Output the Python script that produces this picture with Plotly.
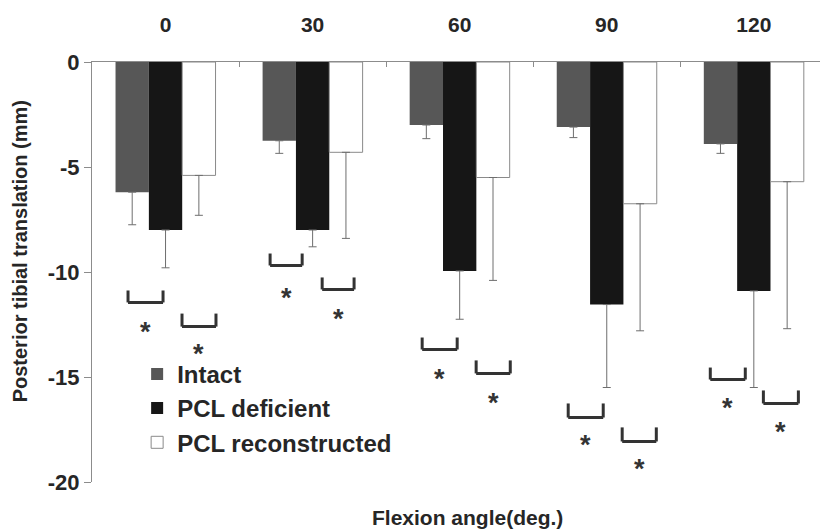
import plotly.graph_objects as go

# ---------------- data ----------------
angles = ["0", "30", "60", "90", "120"]
intact = [-6.2, -3.75, -3.0, -3.1, -3.9]
intact_sd = [1.55, 0.6, 0.65, 0.5, 0.45]
deficient = [-8.0, -8.0, -9.95, -11.55, -10.9]
deficient_sd = [1.8, 0.8, 2.3, 3.95, 4.6]
reconstructed = [-5.4, -4.3, -5.5, -6.75, -5.7]
reconstructed_sd = [1.9, 4.1, 4.9, 6.05, 7.0]

y_tick_vals = [0, -5, -10, -15, -20]
y_tick_text = ["0", "-5", "-10", "-15", "-20"]

# significance brackets (category index + offset, y in mm)
bracket_cat = [0, 0, 1, 1, 2, 2, 3, 3, 4, 4]
bracket_x0 = [-0.255, 0.112, -0.289, 0.065, -0.255, 0.112, -0.262, 0.105, -0.296, 0.065]
bracket_x1 = [-0.017, 0.343, -0.071, 0.282, -0.017, 0.344, -0.024, 0.337, -0.058, 0.303]
bracket_top = [-10.88, -11.98, -9.12, -10.26, -13.12, -14.21, -16.26, -17.4, -14.55, -15.64]
bracket_bottom = [-11.45, -12.6, -9.69, -10.83, -13.69, -14.83, -16.93, -18.07, -15.12, -16.26]
star_y = [-12.64, -13.69, -10.98, -12.02, -14.88, -16.02, -18.02, -19.12, -16.26, -17.36]

FONT = "Liberation Sans, Arial, sans-serif"
TXT = "#262626"

fig = go.Figure()

def add_bar(name, vals, sd, color, line_color, line_w, group):
    fig.add_trace(go.Bar(
        name=name, x=angles, y=vals, legendgroup=group,
        marker=dict(color=color, line=dict(color=line_color, width=line_w)),
        error_y=dict(type="data", symmetric=False, array=[0] * len(sd), arrayminus=sd,
                     color="#6e6e6e", thickness=1, width=4),
    ))

add_bar("Intact", intact, intact_sd, "#575757", "#575757", 0, "a")
add_bar("PCL deficient", deficient, deficient_sd, "#161616", "#161616", 0, "b")
add_bar("PCL reconstructed", reconstructed, reconstructed_sd, "#ffffff", "#8a8a8a", 1, "c")

shapes = []
annotations = []
for c, x0, x1, yt, yb, sy in zip(bracket_cat, bracket_x0, bracket_x1, bracket_top, bracket_bottom, star_y):
    lw = dict(color="#333333", width=3)
    shapes.append(dict(type="line", xref="x", yref="y", x0=c + x0, x1=c + x0, y0=yt, y1=yb, line=lw))
    shapes.append(dict(type="line", xref="x", yref="y", x0=c + x0, x1=c + x1, y0=yb, y1=yb, line=lw))
    shapes.append(dict(type="line", xref="x", yref="y", x0=c + x1, x1=c + x1, y0=yt, y1=yb, line=lw))
    annotations.append(dict(x=c + (x0 + x1) / 2, y=sy, xref="x", yref="y", text="*", showarrow=False,
                            yshift=-5, font=dict(family=FONT, size=27, color="#333333", weight="bold")))

annotations.append(dict(x=0.516, y=-0.085, xref="paper", yref="paper", text="Flexion angle(deg.)",
                        showarrow=False, xanchor="center", yanchor="middle",
                        font=dict(family=FONT, size=21, color=TXT, weight="bold")))
annotations.append(dict(x=-0.099, y=0.549, xref="paper", yref="paper",
                        text="Posterior tibial translation (mm)", textangle=-90,
                        showarrow=False, xanchor="center", yanchor="middle",
                        font=dict(family=FONT, size=20, color=TXT, weight="bold")))

fig.update_layout(
    width=820, height=531,
    margin=dict(l=92, r=0, t=61.5, b=49),
    paper_bgcolor="white", plot_bgcolor="white",
    barmode="group", bargap=0.32, bargroupgap=0,
    font=dict(family=FONT, color=TXT),
    shapes=shapes, annotations=annotations,
    legend=dict(x=0.062, y=0.31, xanchor="left", yanchor="top", traceorder="grouped",
                tracegroupgap=0, bgcolor="rgba(0,0,0,0)",
                font=dict(family=FONT, size=24, color=TXT, weight="bold")),
    xaxis=dict(side="top", type="category", range=[-0.5, 4.45], showline=True, linecolor="#8c8c8c",
               linewidth=1, ticks="inside", ticklen=5, tickcolor="#8c8c8c", tickson="boundaries",
               ticklabelstandoff=21, showgrid=False, zeroline=False, automargin=False,
               tickfont=dict(family=FONT, size=21, color=TXT, weight="bold")),
    yaxis=dict(range=[-20, 0], tickvals=y_tick_vals, ticktext=y_tick_text, showline=True,
               linecolor="#8c8c8c", automargin=False,
               linewidth=1, ticks="outside", ticklen=7, tickcolor="#8c8c8c", showgrid=False,
               zeroline=False,
               tickfont=dict(family=FONT, size=22, color=TXT, weight="bold")),
)

fig.write_html("out.html", config={"displayModeBar": False},
               post_script="document.body.style.margin='0px';")
